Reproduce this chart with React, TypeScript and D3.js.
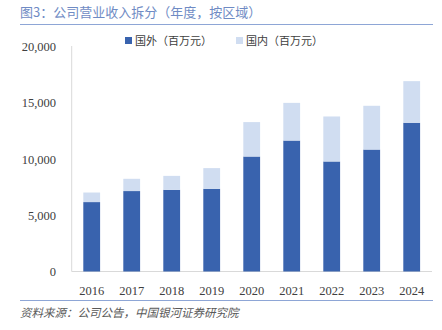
import React from "react";
import * as d3 from "d3";

const years = ["2016", "2017", "2018", "2019", "2020", "2021", "2022", "2023", "2024"];
const foreign = [6170, 7150, 7260, 7350, 10220, 11640, 9780, 10840, 13220];
const domestic = [850, 1090, 1240, 1840, 3060, 3350, 4000, 3890, 3700];
const yTicks = [0, 5000, 10000, 15000, 20000];
const seriesNames = ["国外（百万元）", "国内（百万元）"];
const colors = ["#3963AE", "#D0DDF1"];

export default function App() {
  const W = 442, H = 330;
  const x = d3.scaleBand<string>().domain(years).range([71.7, 431.7]).paddingInner(0.58).paddingOuter(0.29);
  const y = d3.scaleLinear().domain([0, 20000]).range([271.5, 46.5]);
  const fmt = d3.format(",");
  const serif = "'Liberation Serif', 'DejaVu Serif', serif";
  const cjk = "'Noto Sans CJK SC', sans-serif";
  return (
    <svg width={W} height={H} style={{ position: "absolute", left: 0, top: 0 }}>
      <rect width={W} height={H} fill="#fff" />
      <text x={20} y={17} fontFamily={cjk} fontSize={13} fill="#6F8BC4">图3：公司营业收入拆分（年度，按区域）</text>
      <line x1={20} x2={433} y1={24.5} y2={24.5} stroke="#8EA6D6" strokeWidth={1.2} />
      {/* legend */}
      <rect x={125} y={37} width={7} height={7} fill={colors[0]} />
      <text x={135} y={44.5} fontFamily={cjk} fontSize={11} fill="#404040">{seriesNames[0]}</text>
      <rect x={236} y={37} width={7} height={7} fill={colors[1]} />
      <text x={246} y={44.5} fontFamily={cjk} fontSize={11} fill="#404040">{seriesNames[1]}</text>
      {/* y axis */}
      <line x1={71.7} x2={71.7} y1={46} y2={271.5} stroke="#D9D9D9" strokeWidth={1} />
      <line x1={71.7} x2={432} y1={271.5} y2={271.5} stroke="#D9D9D9" strokeWidth={1} />
      {yTicks.map((t) => (
        <text key={t} x={56} y={y(t) + 4.5} textAnchor="end" fontFamily={serif} fontSize={12.5} fill="#404040">{fmt(t)}</text>
      ))}
      {years.map((yr, i) => {
        const bx = x(yr)!;
        const bw = x.bandwidth();
        return (
          <g key={yr}>
            <rect x={bx} y={y(foreign[i])} width={bw} height={y(0) - y(foreign[i])} fill={colors[0]} />
            <rect x={bx} y={y(foreign[i] + domestic[i])} width={bw} height={y(foreign[i]) - y(foreign[i] + domestic[i])} fill={colors[1]} />
            <text x={bx + bw / 2} y={295} textAnchor="middle" fontFamily={serif} fontSize={12.5} fill="#404040">{yr}</text>
          </g>
        );
      })}
      <line x1={20} x2={433} y1={300.5} y2={300.5} stroke="#8EA6D6" strokeWidth={1.2} />
      <text x={20} y={317} fontFamily={cjk} fontSize={11.5} fontStyle="italic" fill="#595959">资料来源：公司公告，中国银河证券研究院</text>
    </svg>
  );
}
